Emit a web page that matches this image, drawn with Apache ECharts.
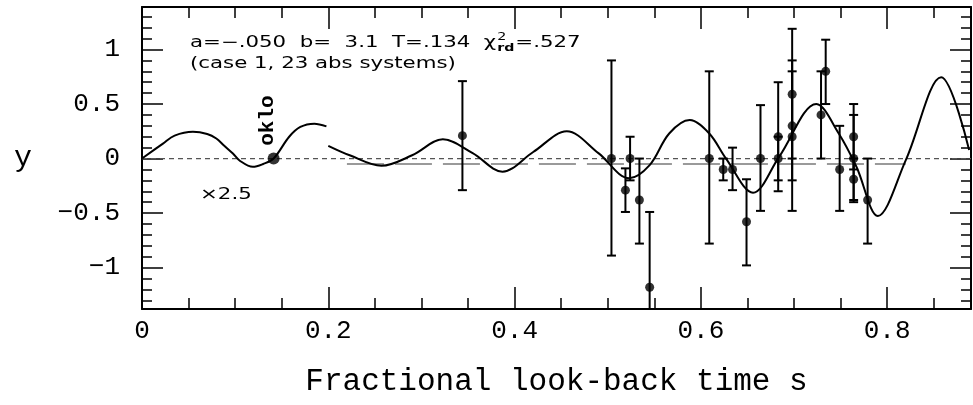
<!DOCTYPE html>
<html><head><meta charset="utf-8">
<script src="https://cdn.jsdelivr.net/npm/echarts@6/dist/echarts.min.js"></script>
<style>html,body{margin:0;padding:0;background:#fff}#c{width:973px;height:405px}</style>
</head><body><div id="c"></div>
<script>
// ---- data ----
const xTickValues = [0, 0.2, 0.4, 0.6, 0.8];
const xTickLabels = ['0', '0.2', '0.4', '0.6', '0.8'];
const yTickValues = [-1, -0.5, 0, 0.5, 1];
const yTickLabels = ['\u22121', '\u22120.5', '0', '0.5', '1'];

// absorption systems: look-back time, y, lower / upper ends of the error bar
const sPoints = [0.344, 0.504, 0.519, 0.524, 0.534, 0.545, 0.609, 0.624, 0.634, 0.649, 0.664, 0.683, 0.683, 0.698, 0.698, 0.698, 0.729, 0.734, 0.749, 0.764, 0.764, 0.764, 0.779];
const yPoints = [0.21, 0.0, -0.29, 0.0, -0.38, -1.18, 0.0, -0.10, -0.10, -0.58, 0.0, 0.20, 0.0, 0.59, 0.30, 0.20, 0.40, 0.80, -0.10, 0.20, 0.0, -0.19, -0.38];
const yLow = [-0.29, -0.89, -0.49, -0.20, -0.78, -1.87, -0.78, -0.20, -0.29, -0.98, -0.48, -0.30, -0.20, 0.0, -0.20, -0.48, 0.0, 0.50, -0.48, -0.10, -0.38, -0.40, -0.78];
const yHigh = [0.71, 0.90, -0.09, 0.20, 0.0, -0.49, 0.80, 0.0, 0.10, -0.19, 0.49, 0.70, 0.20, 1.19, 0.80, 0.90, 0.80, 1.09, 0.30, 0.50, 0.40, 0.0, 0.0];

// Oklo constraint
const okloX = 0.1413;
const okloY = 0.0;

// fitted curve, first part (drawn x2.5)
const curve1X = [0.0, 0.0225, 0.035, 0.0547, 0.07, 0.0798, 0.088, 0.0976, 0.105, 0.119, 0.13, 0.1413, 0.158, 0.17, 0.185, 0.198];
const curve1Y = [0.0, 0.137, 0.21, 0.245, 0.225, 0.184, 0.12, 0.046, -0.02, -0.076, -0.05, 0.0, 0.2, 0.29, 0.32, 0.295];
// fitted curve, second part
const curve2X = [0.200, 0.223, 0.257, 0.290, 0.323, 0.355, 0.387, 0.420, 0.456, 0.490, 0.523, 0.545, 0.566, 0.588, 0.609, 0.627, 0.656, 0.684, 0.724, 0.748, 0.767, 0.790, 0.820, 0.858, 0.888];
const curve2Y = [0.117, 0.03, -0.066, 0.03, 0.176, 0.05, -0.12, 0.06, 0.25, 0.05, -0.18, -0.06, 0.23, 0.353, 0.23, 0.0, -0.314, 0.016, 0.50, 0.23, -0.075, -0.527, -0.014, 0.745, 0.078];

// mean level a = -0.050 (long-dash grey line)
const meanLevelX = [0.22, 0.82];
const meanLevelY = [-0.05, -0.05];
const zeroLineX = [0, 0.89];
const zeroLineY = [0, 0];

const xMin = 0, xMax = 0.89, yMin = -1.38, yMax = 1.39;

// ---- chart ----
const zip = (a, b) => a.map((v, i) => [v, b[i]]);
const serif = 'Liberation Mono';
const fmtY = v => { const i = yTickValues.findIndex(t => Math.abs(t - v) < 1e-9); return i >= 0 ? yTickLabels[i] : ''; };
const fmtX = v => { const i = xTickValues.findIndex(t => Math.abs(t - v) < 1e-9); return i >= 0 ? xTickLabels[i] : ''; };

const axisLineStyle = { show: true, onZero: false, lineStyle: { color: '#000', width: 2 } };
const xCommon = {
  type: 'value', min: xMin, max: xMax, splitNumber: 5,
  axisLine: axisLineStyle,
  axisTick: { show: true, inside: true, length: 22, lineStyle: { color: '#000', width: 1.5 } },
  minorTick: { show: true, splitNumber: 4, length: 11, lineStyle: { color: '#000', width: 1.5 } },
  splitLine: { show: false }, minorSplitLine: { show: false }
};
const yCommon = {
  type: 'value', min: yMin, max: yMax, splitNumber: 5,
  axisLine: axisLineStyle,
  axisTick: { show: true, inside: true, length: 21, lineStyle: { color: '#000', width: 1.5 } },
  minorTick: { show: true, splitNumber: 5, length: 10, lineStyle: { color: '#000', width: 1.5 } },
  splitLine: { show: false }, minorSplitLine: { show: false }
};

const chart = echarts.init(document.getElementById('c'), null, { renderer: 'canvas' });
const option = {
  animation: false,
  backgroundColor: '#fff',
  grid: { left: 142, right: 2, top: 7, bottom: 96, containLabel: false },
  xAxis: [
    Object.assign({}, xCommon, {
      position: 'bottom',
      axisLabel: { show: true, formatter: fmtX, showMaxLabel: false, margin: 9, color: '#000', fontFamily: serif, fontSize: 26 },
      name: 'Fractional look-back time s', nameLocation: 'middle', nameGap: 57,
      nameTextStyle: { color: '#000', fontFamily: serif, fontSize: 31 }
    }),
    Object.assign({}, xCommon, { position: 'top', axisLabel: { show: false } })
  ],
  yAxis: [
    Object.assign({}, yCommon, {
      position: 'left',
      axisLabel: { show: true, formatter: fmtY, showMinLabel: false, showMaxLabel: false, margin: 22, color: '#000', fontFamily: serif, fontSize: 26 },
      name: 'y', nameLocation: 'middle', nameRotate: 0, nameGap: 110,
      nameTextStyle: { color: '#000', fontFamily: serif, fontSize: 30 }
    }),
    Object.assign({}, yCommon, { position: 'right', axisLabel: { show: false } })
  ],
  series: [
    { type: 'line', data: zip(zeroLineX, zeroLineY), showSymbol: false, silent: true, z: 1,
      lineStyle: { color: '#555', width: 1.2, type: [5, 4] } },
    { type: 'line', data: zip(meanLevelX, meanLevelY), showSymbol: false, silent: true, z: 1,
      lineStyle: { color: '#9a9a9a', width: 2, type: [37, 11] } },
    { type: 'line', data: zip(curve1X, curve1Y), showSymbol: false, smooth: 0.35, z: 2,
      lineStyle: { color: '#000', width: 2 } },
    { type: 'line', data: zip(curve2X, curve2Y), showSymbol: false, smooth: 0.35, z: 2,
      lineStyle: { color: '#000', width: 2 } },
    { type: 'custom', clip: true, z: 3,
      data: sPoints.map((s, i) => [s, yLow[i], yHigh[i]]),
      renderItem: (params, api) => {
        const x = api.value(0);
        const p1 = api.coord([x, api.value(2)]);
        const p2 = api.coord([x, api.value(1)]);
        const w = 4.5, st = { stroke: '#000', lineWidth: 2 };
        return { type: 'group', children: [
          { type: 'line', shape: { x1: p1[0], y1: p1[1], x2: p2[0], y2: p2[1] }, style: st },
          { type: 'line', shape: { x1: p1[0] - w, y1: p1[1], x2: p1[0] + w, y2: p1[1] }, style: st },
          { type: 'line', shape: { x1: p2[0] - w, y1: p2[1], x2: p2[0] + w, y2: p2[1] }, style: st }
        ] };
      } },
    { type: 'scatter', data: zip(sPoints, yPoints), symbol: 'circle', symbolSize: 9, z: 4,
      itemStyle: { color: '#000' } },
    { type: 'scatter', data: [[okloX, okloY]], symbol: 'circle', symbolSize: 12, z: 4,
      itemStyle: { color: '#000' } }
  ]
};
chart.setOption(option);

// ---- annotations ----
const sans = 'DejaVu Sans';
const sx = 1.42;
const cv = document.createElement('canvas').getContext('2d');
const measure = (t, font) => { cv.font = font; return cv.measureText(t).width; };
const f1 = '15px "' + sans + '"';
const f2 = '10px "' + sans + '"';
const f2b = 'bold 10px "' + sans + '"';
const x0 = 190, yLine1 = 43, yLine2 = 64;
const part1 = 'a=\u2212.050  b=  3.1  T=.134  \u03c7';
const w1 = measure(part1, f1) * sx;
const wrd = measure('rd', f2b) * sx;
const txt = (x, y, text, font) => ({ type: 'text', x: x, y: y, scaleX: sx,
  style: { text: text, font: font, fill: '#000', align: 'left', verticalAlign: 'middle' } });
const els = [
  txt(x0, yLine1, part1, f1),
  txt(x0 + w1 + 1, yLine1 - 6, '2', f2),
  txt(x0 + w1 + 1, yLine1 + 5, 'rd', f2b),
  txt(x0 + w1 + wrd + 2, yLine1, '=.527', f1),
  txt(x0, yLine2, '(case 1, 23 abs systems)', f1),
  txt(200, 195, '\u00d72.5', f1)
];
const op = chart.convertToPixel({ gridIndex: 0 }, [okloX, okloY]);
els.push({ type: 'text', x: op[0] - 6, y: op[1] - 38, rotation: Math.PI / 2,
  style: { text: 'oklo', font: 'bold 21px "' + serif + '"', fill: '#000', align: 'center', verticalAlign: 'middle' } });
chart.setOption({ graphic: { elements: els } });
</script>
</body></html>
